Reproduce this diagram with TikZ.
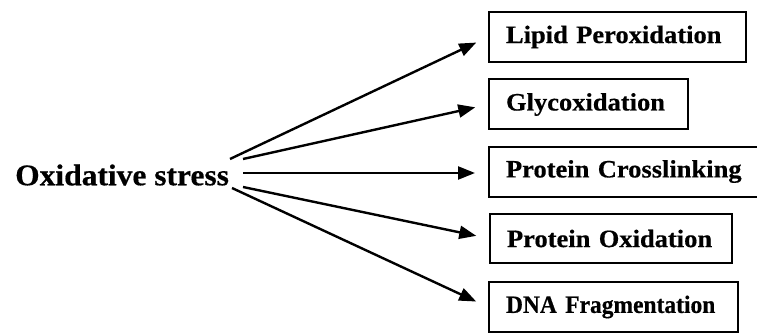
\documentclass[tikz,border=0pt]{standalone}
\usepackage{fontspec}
\setmainfont{Liberation Serif}
\newfontfamily\boxfont[FakeStretch=1.06,FakeBold=0.5]{Liberation Serif}
\newfontfamily\narrowboxfont[FakeStretch=0.94,FakeBold=0.5]{Liberation Serif}
\newfontfamily\srcfont[FakeStretch=1.05,FakeBold=0.5]{Liberation Serif}
\usetikzlibrary{arrows.meta}
\tikzset{
  effect/.style={draw, line width=2pt, anchor=west, minimum height=50pt,
    inner xsep=17pt, inner ysep=0pt, align=left,
    font=\boxfont\bfseries\fontsize{25}{28}\selectfont},
  cause/.style={inner sep=0pt, font=\srcfont\bfseries\fontsize{30}{34}\selectfont},
  link/.style={line width=2.4pt, shorten >=13pt,
    -{Triangle[length=17pt,width=13pt]}}
}
\begin{document}
\begin{tikzpicture}[x=1pt,y=-1pt]
  \useasboundingbox (0,0) rectangle (757,334);
  % source label
  \node[cause, anchor=west] (ox) at (15,175) {Oxidative stress};
  % effect boxes
  \node[effect, text width=223pt] (lp) at (488,37)  {\mbox{Lipid Peroxidation}};
  \node[effect, text width=165pt] (gl) at (488,104.5) {\mbox{Glycoxidation}};
  \node[effect, text width=260pt] (pc) at (488,171.5) {\mbox{Protein Crosslinking}};
  \node[effect, text width=208pt, minimum height=49pt] (po) at (489,238.5) {\mbox{Protein Oxidation}};
  \node[effect, text width=215pt] (dn) at (488,307) {\mbox{\narrowboxfont DNA Fragmentation}};
  % arrow start points next to the label
  \coordinate (s1) at (230,159);
  \coordinate (s2) at (243,159);
  \coordinate (s3) at (243,173);
  \coordinate (s4) at (243,187);
  \coordinate (s5) at (232,188);
  % connectors
  \draw[link] (s1) -- (lp.west);
  \draw[link] (s2) -- (gl.west);
  \draw[link] (s3) -- (s3 -| pc.west);
  \draw[link] (s4) -- (po.west);
  \draw[link] (s5) -- (dn.west);
\end{tikzpicture}
\end{document}
